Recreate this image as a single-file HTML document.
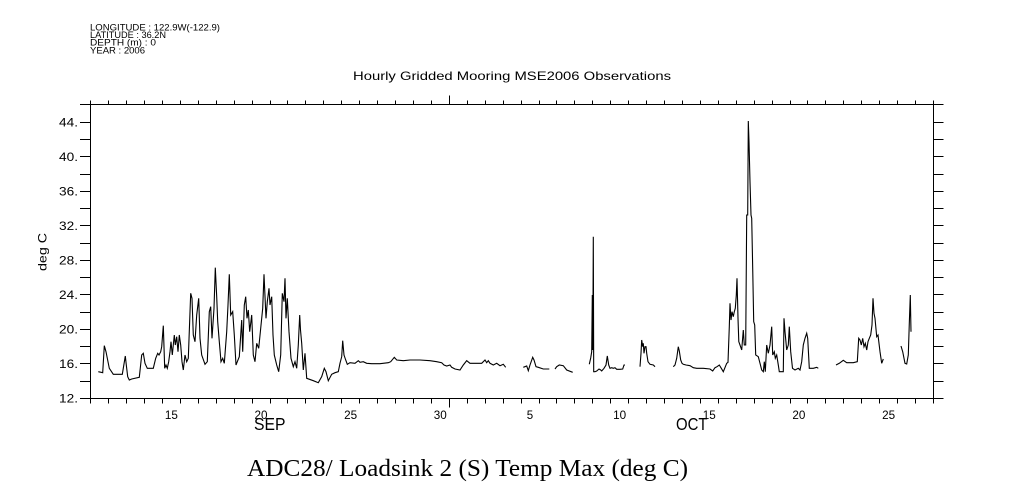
<!DOCTYPE html>
<html>
<head>
<meta charset="utf-8">
<style>
html,body{margin:0;padding:0;background:#fff;}
svg{display:block;}
text{font-family:"Liberation Sans",sans-serif;fill:#000;}
</style>
</head>
<body>
<svg width="1009" height="504" viewBox="0 0 1009 504" xmlns="http://www.w3.org/2000/svg">
<rect width="1009" height="504" fill="#fff"/>

<!-- header -->
<g font-size="9">
<text x="90" y="30.3" textLength="130" lengthAdjust="spacingAndGlyphs">LONGITUDE : 122.9W(-122.9)</text>
<text x="90" y="38" textLength="76" lengthAdjust="spacingAndGlyphs">LATITUDE : 36.2N</text>
<text x="90" y="45.7" textLength="66" lengthAdjust="spacingAndGlyphs">DEPTH (m) : 0</text>
<text x="90" y="53.5" textLength="55" lengthAdjust="spacingAndGlyphs">YEAR : 2006</text>
</g>

<text x="353" y="80" font-size="12" textLength="318" lengthAdjust="spacingAndGlyphs">Hourly Gridded Mooring MSE2006 Observations</text>

<!-- axes box -->
<g stroke="#000" stroke-width="1" fill="none" shape-rendering="crispEdges">
<rect x="90.5" y="104.5" width="843" height="294"/>
<path d="M90.5 398.5v5 M108.5 398.5v5 M126.5 398.5v5 M144.5 398.5v5 M162.5 398.5v5 M180.5 398.5v5 M198.5 398.5v5 M216.5 398.5v5 M234.5 398.5v5 M252.5 398.5v5 M270.5 398.5v5 M287.5 398.5v5 M305.5 398.5v5 M323.5 398.5v5 M341.5 398.5v5 M359.5 398.5v5 M377.5 398.5v5 M395.5 398.5v5 M413.5 398.5v5 M431.5 398.5v5 M449.5 398.5v9 M467.5 398.5v5 M485.5 398.5v5 M503.5 398.5v5 M521.5 398.5v5 M539.5 398.5v5 M556.5 398.5v5 M574.5 398.5v5 M592.5 398.5v5 M610.5 398.5v5 M628.5 398.5v5 M646.5 398.5v5 M664.5 398.5v5 M682.5 398.5v5 M700.5 398.5v5 M718.5 398.5v5 M736.5 398.5v5 M754.5 398.5v5 M772.5 398.5v5 M790.5 398.5v5 M807.5 398.5v5 M825.5 398.5v5 M843.5 398.5v5 M861.5 398.5v5 M879.5 398.5v5 M897.5 398.5v5 M915.5 398.5v5 M933.5 398.5v5"/>
<path d="M90.5 104.5v-4 M108.5 104.5v-4 M126.5 104.5v-4 M144.5 104.5v-4 M162.5 104.5v-4 M180.5 104.5v-4 M198.5 104.5v-4 M216.5 104.5v-4 M234.5 104.5v-4 M252.5 104.5v-4 M270.5 104.5v-4 M287.5 104.5v-4 M305.5 104.5v-4 M323.5 104.5v-4 M341.5 104.5v-4 M359.5 104.5v-4 M377.5 104.5v-4 M395.5 104.5v-4 M413.5 104.5v-4 M431.5 104.5v-4 M449.5 104.5v-9 M467.5 104.5v-4 M485.5 104.5v-4 M503.5 104.5v-4 M521.5 104.5v-4 M539.5 104.5v-4 M556.5 104.5v-4 M574.5 104.5v-4 M592.5 104.5v-4 M610.5 104.5v-4 M628.5 104.5v-4 M646.5 104.5v-4 M664.5 104.5v-4 M682.5 104.5v-4 M700.5 104.5v-4 M718.5 104.5v-4 M736.5 104.5v-4 M754.5 104.5v-4 M772.5 104.5v-4 M790.5 104.5v-4 M807.5 104.5v-4 M825.5 104.5v-4 M843.5 104.5v-4 M861.5 104.5v-4 M879.5 104.5v-4 M897.5 104.5v-4 M915.5 104.5v-4 M933.5 104.5v-4"/>
<path d="M80 398.5h10.5 M80 381.5h10.5 M80 363.5h10.5 M80 346.5h10.5 M80 329.5h10.5 M80 312.5h10.5 M80 294.5h10.5 M80 277.5h10.5 M80 260.5h10.5 M80 243.5h10.5 M80 225.5h10.5 M80 208.5h10.5 M80 191.5h10.5 M80 174.5h10.5 M80 156.5h10.5 M80 139.5h10.5 M80 122.5h10.5 M80 104.5h10.5"/>
<path d="M933.5 398.5h10 M933.5 381.5h10 M933.5 363.5h10 M933.5 346.5h10 M933.5 329.5h10 M933.5 312.5h10 M933.5 294.5h10 M933.5 277.5h10 M933.5 260.5h10 M933.5 243.5h10 M933.5 225.5h10 M933.5 208.5h10 M933.5 191.5h10 M933.5 174.5h10 M933.5 156.5h10 M933.5 139.5h10 M933.5 122.5h10 M933.5 104.5h10"/>
</g>

<!-- y labels -->
<g font-size="11.5" text-anchor="end">
<text x="78" y="402.5" textLength="19" lengthAdjust="spacingAndGlyphs">12.</text>
<text x="78" y="368" textLength="19" lengthAdjust="spacingAndGlyphs">16.</text>
<text x="78" y="333.5" textLength="19" lengthAdjust="spacingAndGlyphs">20.</text>
<text x="78" y="299" textLength="19" lengthAdjust="spacingAndGlyphs">24.</text>
<text x="78" y="264.5" textLength="19" lengthAdjust="spacingAndGlyphs">28.</text>
<text x="78" y="230" textLength="19" lengthAdjust="spacingAndGlyphs">32.</text>
<text x="78" y="195.5" textLength="19" lengthAdjust="spacingAndGlyphs">36.</text>
<text x="78" y="161" textLength="19" lengthAdjust="spacingAndGlyphs">40.</text>
<text x="78" y="126.5" textLength="19" lengthAdjust="spacingAndGlyphs">44.</text>
</g>
<text transform="translate(46.5,252) rotate(-90)" font-size="12" text-anchor="middle" textLength="38" lengthAdjust="spacingAndGlyphs">deg C</text>

<!-- x labels -->
<g font-size="11.5" text-anchor="middle">
<text x="171.4" y="418.8" textLength="13" lengthAdjust="spacingAndGlyphs">15</text>
<text x="261" y="418.8" textLength="13" lengthAdjust="spacingAndGlyphs">20</text>
<text x="350.7" y="418.8" textLength="13" lengthAdjust="spacingAndGlyphs">25</text>
<text x="440.3" y="418.8" textLength="13" lengthAdjust="spacingAndGlyphs">30</text>
<text x="530" y="418.8">5</text>
<text x="619.6" y="418.8" textLength="13" lengthAdjust="spacingAndGlyphs">10</text>
<text x="709.3" y="418.8" textLength="13" lengthAdjust="spacingAndGlyphs">15</text>
<text x="798.9" y="418.8" textLength="13" lengthAdjust="spacingAndGlyphs">20</text>
<text x="888.6" y="418.8" textLength="13" lengthAdjust="spacingAndGlyphs">25</text>
</g>
<text x="254" y="430" font-size="17.5" textLength="31.5" lengthAdjust="spacingAndGlyphs">SEP</text>
<text x="676" y="430" font-size="17.5" textLength="31.5" lengthAdjust="spacingAndGlyphs">OCT</text>

<text x="247" y="476" font-size="24" style="font-family:'Liberation Serif',serif" textLength="441" lengthAdjust="spacingAndGlyphs">ADC28/ Loadsink 2 (S) Temp Max (deg C)</text>

<!-- data -->
<g stroke="#000" stroke-width="1.1" fill="none" stroke-linejoin="miter">
<polyline points="98.3,371.7 102.7,372.7 104.3,345.7 106,351.7 109.3,368.3 113.3,374.3 122.3,374.3 125.3,356 126.3,365 127.7,376.7 129.3,380 131.7,379 139.3,377.3 141.7,355 143.3,353.3 145,363.3 147.3,368.3 153.3,368.3 155.7,358.3 157.7,353.3 159,355 160.7,351.7 161.7,346.7 163.3,325.7 164.7,368.3 166,365 167.3,368.3 168.7,361.7 170,351.7 171,341.7 172.3,355 174.3,335 175.3,345 176.7,336.7 178,351.7 179.3,335 180.7,345 182,361.7 183.3,370 185,355 186.7,361.7 188.3,358.3 190.7,293.3 192,298.3 193.3,335 195,341.7 196.7,315 198.7,298.3 200,338.3 201.7,355 205,364.3 207.3,361.7 209.3,311.7 210.7,306.7 212,338.3 214,308.3 215.3,267.7 216.7,296.7 217.7,321.7 219.3,341.7 221,361.7 222.7,358.3 224.3,363.3 226.7,331.7 228,305 229.3,274.3 230.7,315 232.7,311.7 234.3,335 236,365 237.3,361.7 239.3,356.7 241.7,320 242.7,351.7 244.3,305 245.7,296.7 247,318.3 248.3,310 249.7,331.7 251.7,315 253.3,355 255,361.7 256.7,343.3 258.7,348.3 260.7,328.3 262.7,308.3 264,274.3 266,318.3 267.3,301.7 269,288.3 270,305 271.7,296.7 273,335 274.3,355 276.7,365 278.7,371.7 280.7,355 282.3,293.3 284,301.7 285,278.3 286,318.3 287.3,298.3 289,331.7 291,358.3 293.3,366.7 295,361.7 296.7,368.3 298.3,345 299.7,315 300.5,330 301.7,343.3 303.3,370 305,353.3 306.7,378.3 313.3,380.7 318.3,382.7 321.7,376.7 324.3,368.3 326,371.7 328.3,380.7 331.7,374.3 335,372.7 338.3,371.7 340,363.3 341.7,356.7 342.7,340.7 344,355 345.7,360 347.3,364.3 350,362.7 355,363.3 358.3,360.7 360,362.3 363.3,361.7 366.7,363.3 371.7,363.7 380,363.7 388.3,362.7 390.7,361.7 394.3,357.3 396.7,360 403.3,360.7 410,360 420,360 430,360.7 436.7,361.7 441.7,362.7 444,365 446.7,366 450,365 451.7,367.3 455,369 460,370 463.3,365 466.7,360.7 470,363.3 475,363.3 481.7,363.3 485,360 486.7,362.7 488.3,360.7 490,363.3 493.3,365 496.7,363.3 500,365.7 503.3,364.3 505.7,367.3"/>
<polyline points="523.3,367.3 526.7,366 528.3,370.7 530,365 532.7,357.3 534,360 536,366.7 538.3,367.3 543.3,369 549.3,369"/>
<polyline points="555,369 556.7,366.7 559.3,365 563.3,365.7 566.7,370 572.7,372.3"/>
<polyline points="589.3,364.3 590.7,358 591.7,351.7 592.3,295 592.8,350 593.3,236.7 593.7,371.7 595,371.7 596.7,371 599,369 600.7,370 601.7,371 604,368.3 606,365 607.3,356 608.7,365 610,368.3 611.7,367.7 613.3,368.3 615,367.7 616.7,369.3 620,369.3 622.7,369 624,365 625,365"/>
<polyline points="640,366.7 641,353.3 641.7,340 642.7,346.7 643.3,343.3 644,353.3 645,346.7 646,346.7 646.7,353.3 648,361.7 650,364.3 653.3,365 655,366.7"/>
<polyline points="673.3,366.7 675,365 676.7,358.3 678.3,346.7 679.3,351 680.7,360 682,363.3 683.3,364.3 686,365 690,365.7 693.3,367.7 696.7,368.3 703.3,368.3 710,369 712.7,371 715,367.7 717,366.7 719.3,365 721.3,368.3 723.3,371.7 726.7,363.3 728,362.3 729.3,326.7 730,303.3 731,320 732,311.7 733.3,316.7 734.3,311.7 735.3,308.3 736.3,295 737,278.3 738,318.3 738.8,341.7 740,345 741.7,350 743.3,330 744.3,345 745.7,345 746.7,215 747.7,215 748.3,121 749,141.7 750,181.7 751,215 751.7,218.3 752.7,268.3 753.7,321.7 754.7,325 755.7,355 758.3,356.7 760,363.3 761.7,370 763.3,371.7 764.3,361.7 765.3,371.7 766.7,345 768.3,353.3 770,345 771.7,326.7 772.7,355 774.3,351.7 775.3,358.3 776.7,355 778.3,365 779.3,371.7 783.3,371.7 784,318.3 785,331.7 786.7,350 788.3,345 789.3,326.7 790.7,351.7 792.5,368.3 795,370 798.3,368.3 800,370 801.7,361.7 803.3,345 805,338.3 806.7,333.3 807.7,338.3 809.3,368.3 813.3,368.3 816.7,367.3 818.3,368.3"/>
<polyline points="836,365 839.3,363.3 843.3,360.3 846.7,362.7 853.3,362.7 857.3,361.7 858.7,338.3 860,340 861.3,345 862.7,338.3 864,346.7 865.3,343.3 866.7,350 868,341.7 869.3,338.3 870.7,335 872,325 873,298.3 874,313.3 875,318.3 876.7,336.7 878,335 880,351.7 881.7,363.3 883.3,359"/>
<polyline points="901,346 902.7,351.7 905,363.3 906.7,364 908.3,355 909.3,323.3 910.3,295 911,331.7"/>
</g>
</svg>
</body>
</html>
